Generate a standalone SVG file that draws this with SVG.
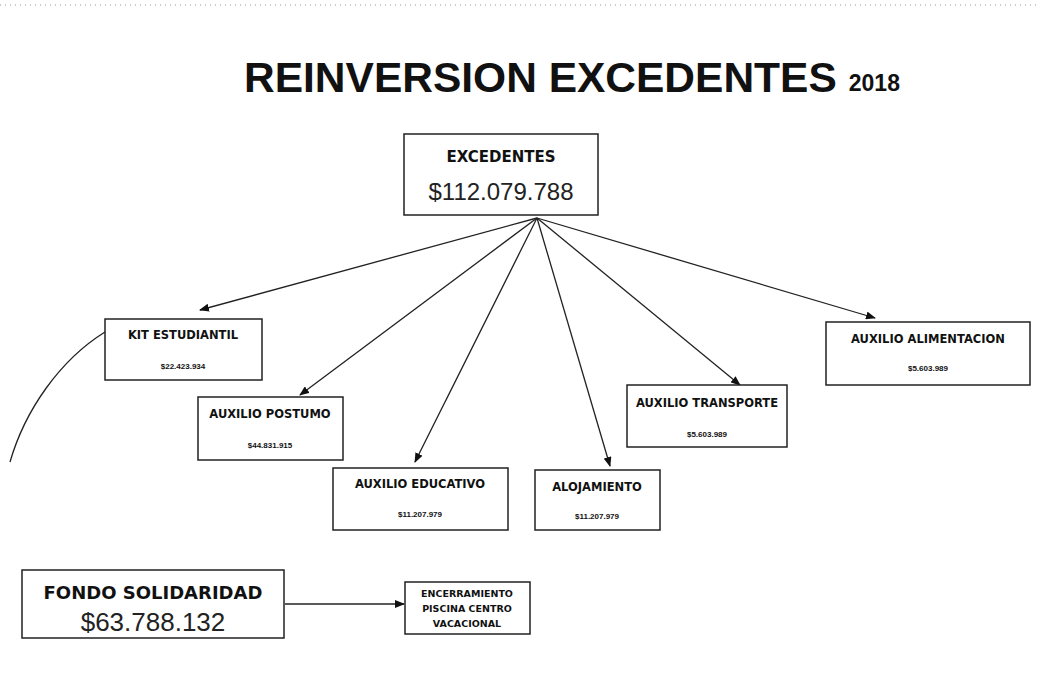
<svg xmlns="http://www.w3.org/2000/svg" width="1038" height="691" viewBox="0 0 1038 691">
<defs>
<marker id="ah" markerWidth="10" markerHeight="8" refX="9" refY="4" orient="auto" markerUnits="userSpaceOnUse">
<path d="M0,0 L10,4 L0,8 Z" fill="#111"/>
</marker>
<style>
.box{fill:#fff;stroke:#222;stroke-width:1.5}
.t{font-family:"Liberation Sans",Arial,sans-serif;fill:#111;text-anchor:middle}
.h{font-family:"DejaVu Sans",sans-serif;font-weight:bold;font-size:11.5px}
.v{font-weight:bold;font-size:8px}
.big{font-family:"Liberation Sans",Arial,sans-serif;fill:#222;text-anchor:middle;font-size:25px}
.c{stroke:#222;stroke-width:1.3;fill:none}
</style>
</defs>
<rect width="1038" height="691" fill="#fff"/>
<line x1="0" y1="5" x2="1038" y2="5" stroke="#999" stroke-width="1" stroke-dasharray="1,4"/>
<g id="title">
<text x="244" y="92" font-family="Liberation Sans,Arial,sans-serif" font-weight="bold" font-size="42.5" fill="#111">REINVERSION EXCEDENTES<tspan dx="12" dy="-1" font-size="23">2018</tspan></text>
</g>
<g id="connectors">
<line class="c" x1="537" y1="218" x2="200" y2="310" marker-end="url(#ah)"/>
<line class="c" x1="537" y1="218" x2="300" y2="395" marker-end="url(#ah)"/>
<line class="c" x1="537" y1="218" x2="415" y2="462" marker-end="url(#ah)"/>
<line class="c" x1="537" y1="218" x2="610" y2="466" marker-end="url(#ah)"/>
<line class="c" x1="537" y1="218" x2="740" y2="385" marker-end="url(#ah)"/>
<line class="c" x1="537" y1="218" x2="875" y2="318" marker-end="url(#ah)"/>
<line class="c" x1="285" y1="604" x2="404" y2="604" marker-end="url(#ah)"/>
<path class="c" d="M105,332 C60,360 25,410 10,462"/>
</g>
<g id="excedentes">
<rect class="box" x="404" y="134" width="194" height="81"/>
<text class="t h" x="501" y="162" style="font-size:15px">EXCEDENTES</text>
<text class="big" x="501" y="200" style="font-size:24px">$112.079.788</text>
</g>
<g id="kit">
<rect class="box" x="105" y="319" width="157" height="61"/>
<text class="t h" x="183" y="339">KIT ESTUDIANTIL</text>
<text class="t v" x="183" y="369">$22.423.934</text>
</g>
<g id="postumo">
<rect class="box" x="198" y="397" width="145" height="63"/>
<text class="t h" x="270" y="418">AUXILIO POSTUMO</text>
<text class="t v" x="270" y="448">$44.831.915</text>
</g>
<g id="educativo">
<rect class="box" x="333" y="468" width="175" height="62"/>
<text class="t h" x="420" y="488">AUXILIO EDUCATIVO</text>
<text class="t v" x="420" y="517">$11.207.979</text>
</g>
<g id="alojamiento">
<rect class="box" x="535" y="470" width="125" height="60"/>
<text class="t h" x="597" y="491">ALOJAMIENTO</text>
<text class="t v" x="597" y="519">$11.207.979</text>
</g>
<g id="transporte">
<rect class="box" x="627" y="385" width="160" height="62"/>
<text class="t h" x="707" y="407">AUXILIO TRANSPORTE</text>
<text class="t v" x="707" y="437">$5.603.989</text>
</g>
<g id="alimentacion">
<rect class="box" x="826" y="322" width="204" height="63"/>
<text class="t h" x="928" y="343">AUXILIO ALIMENTACION</text>
<text class="t v" x="928" y="371">$5.603.989</text>
</g>
<g id="fondo">
<rect class="box" x="22" y="570" width="262" height="68"/>
<text class="t h" x="153" y="599" style="font-size:18px">FONDO SOLIDARIDAD</text>
<text class="big" x="153" y="631" style="font-size:26px">$63.788.132</text>
</g>
<g id="encerramiento">
<rect class="box" x="405" y="582" width="125" height="52"/>
<text class="t h" x="467" y="597" style="font-size:9.5px">ENCERRAMIENTO</text>
<text class="t h" x="467" y="612" style="font-size:9.5px">PISCINA CENTRO</text>
<text class="t h" x="467" y="627" style="font-size:9.5px">VACACIONAL</text>
</g>
</svg>
